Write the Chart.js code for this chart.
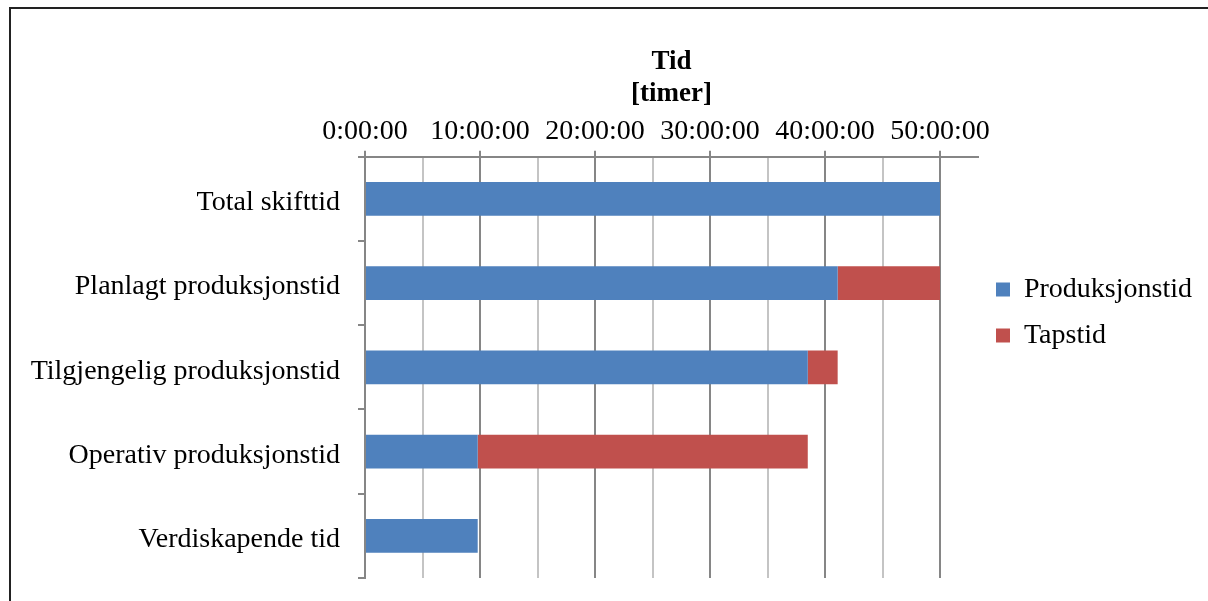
<!DOCTYPE html>
<html>
<head>
<meta charset="utf-8">
<script src="https://cdn.jsdelivr.net/npm/chart.js@4"></script>
<style>
  html, body { margin: 0; padding: 0; background: #fff; overflow: hidden; }
  #frame {
    position: absolute; left: 9px; top: 7px;
    border-left: 2px solid #222; border-top: 2px solid #222;
    width: 1203px; height: 594px;
  }
  #wrap { position: relative; width: 1203px; height: 592px; }
</style>
</head>
<body>
<div id="frame"><div id="wrap"><canvas id="chart"></canvas></div></div>
<script>
// hours per stage, stacked: productive part + lost part
const categories = ['Total skifttid', 'Planlagt produksjonstid', 'Tilgjengelig produksjonstid', 'Operativ produksjonstid', 'Verdiskapende tid']
const produksjonstid = [50, 41.1, 38.5, 9.8, 9.8]
const tapstid = [0, 8.9, 2.6, 28.7, 0]
const axisMax = 53.3
const tickStep = 5
const labelStep = 10

const serif = "'Liberation Serif', 'Times New Roman', serif"
const axisGrey = '#868686'
const catAxisWidth = 335

const fmtHours = v => v + ':00:00'

new Chart(document.getElementById('chart'), {
  type: 'bar',
  data: {
    labels: categories,
    datasets: [
      { label: 'Produksjonstid', data: produksjonstid, backgroundColor: '#4F81BD', borderWidth: 0 },
      { label: 'Tapstid', data: tapstid, backgroundColor: '#C0504D', borderWidth: 0 }
    ]
  },
  options: {
    indexAxis: 'y',
    responsive: true,
    maintainAspectRatio: false,
    animation: false,
    categoryPercentage: 1,
    barPercentage: 0.4,
    layout: { padding: { top: 38, left: 19, bottom: 23, right: 12 } },
    plugins: {
      tooltip: { enabled: false },
      legend: {
        position: 'right',
        labels: {
          boxWidth: 14, boxHeight: 14, padding: 18,
          color: '#000',
          font: { family: serif, size: 28 }
        }
      }
    },
    scales: {
      x: {
        position: 'top',
        stacked: true,
        min: 0,
        max: axisMax,
        ticks: {
          stepSize: tickStep,
          includeBounds: false,
          autoSkip: false,
          maxRotation: 0,
          padding: 2,
          color: '#000',
          font: { family: serif, size: 28 },
          callback: v => (v % labelStep === 0 ? fmtHours(v) : '')
        },
        grid: {
          lineWidth: 2,
          tickLength: 6,
          color: c => (c.tick && c.tick.value % labelStep === 0 ? axisGrey : '#c4c4c4'),
          tickColor: c => (c.tick && c.tick.value % labelStep === 0 ? axisGrey : 'rgba(0,0,0,0)')
        },
        border: { color: axisGrey, width: 2 },
        title: {
          display: true,
          text: ['Tid', '[timer]'],
          color: '#000',
          font: { family: serif, size: 27, weight: 'bold', lineHeight: 1.15 },
          padding: { top: 0, bottom: 4 }
        }
      },
      y: {
        stacked: true,
        // long category names need more room than the default box limit
        afterFit: scale => {
          scale.width = catAxisWidth
          scale.paddingTop = 0
          scale.paddingBottom = 0
        },
        ticks: {
          padding: 18,
          labelOffset: 4,
          color: '#000',
          font: { family: serif, size: 28 }
        },
        grid: {
          offset: true,
          drawOnChartArea: false,
          tickLength: 7,
          lineWidth: 2,
          tickColor: axisGrey
        },
        border: { color: axisGrey, width: 2 }
      }
    }
  }
})
</script>
</body>
</html>
